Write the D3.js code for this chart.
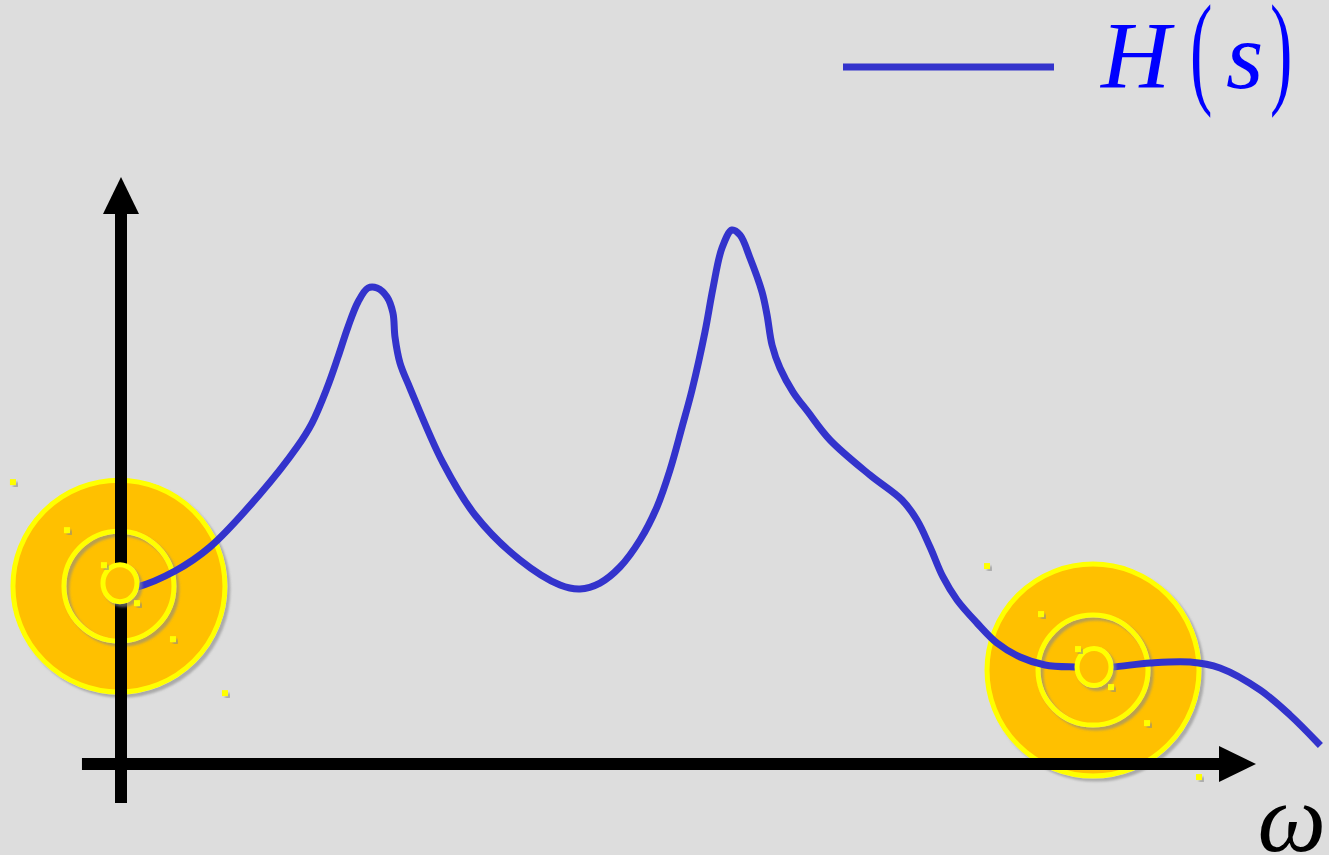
<!DOCTYPE html>
<html>
<head>
<meta charset="utf-8">
<script src="https://cdn.jsdelivr.net/npm/d3@7"></script>
<style>
  html, body { margin: 0; padding: 0; background: #dddddd; }
  svg { display: block; }
</style>
</head>
<body>
<svg id="chart" width="1329" height="855"></svg>
<script>
// Frequency response H(s) over ω (arbitrary units)
const omega = [0, 1.41, 4.76, 7.84, 12.25, 15.51, 16.83, 18.15, 19.12,
  20.0, 20.88, 21.76, 22.56, 23.44, 23.96, 24.14, 24.58, 25.46, 28.37, 31.19, 35.15, 38.68,
  40.44, 42.2, 43.96, 45.73, 47.22, 48.37, 49.43, 50.31, 51.45, 52.16, 52.95, 53.83, 54.54, 55.42,
  56.48, 56.92, 57.36, 58.06, 59.21, 60.53, 62.47, 65.99, 68.81, 70.13, 71.28, 72.42, 73.66, 75.42,
  77.18, 79.21, 81.41, 84.05, 85.7, 87.31, 90.66, 94.19, 96.83, 100.35, 102.99, 105.46];
const magnitude = [29.8, 30.15, 32.88, 36.97, 46.0, 54.0, 58.09, 64.05, 69.34,
  74.45, 78.71, 81.09, 81.09, 79.56, 76.83, 72.74, 68.31, 64.05, 51.28, 42.42, 34.75, 30.49,
  29.81, 30.83, 33.56, 38.16, 43.78, 50.09, 57.41, 63.71, 73.59, 81.09, 87.9, 90.97, 90.12, 86.2,
  80.41, 76.49, 71.38, 67.46, 63.37, 59.97, 55.2, 49.23, 44.97, 41.57, 36.97, 31.86, 27.94, 24.02,
  20.61, 18.23, 16.87, 16.52, 16.5, 16.52, 17.21, 17.38, 16.35, 12.61, 8.35, 3.58];

// Highlighted operating points on the curve
const markerOmega = [-0.18, 85.64];
const markerMag = [30.3, 16.0];

// Axis extents
const axisX = [-3.44, 100];
const axisY = [-6.64, 100];

const legendLabel = ["H", "(", "s", ")"];
const axisLabel = "ω";

const svg = d3.select("#chart");
const x = d3.scaleLinear().domain([0, 100]).range([121, 1256]);
const y = d3.scaleLinear().domain([0, 100]).range([764, 177]);

const lineColor = "#3333cc";
const gold = "#ffc000";
const ring = "#ffff00";

const defs = svg.append("defs");
const sh = defs.append("filter").attr("id", "shadow")
  .attr("x", "-20%").attr("y", "-20%").attr("width", "140%").attr("height", "140%");
sh.append("feDropShadow").attr("dx", 3).attr("dy", 3).attr("stdDeviation", 1)
  .attr("flood-color", "#888").attr("flood-opacity", 0.6);

const markers = markerOmega.map((w, i) => ({ cx: x(w), cy: y(markerMag[i]) }));

// outer discs and middle rings
const back = svg.append("g");
markers.forEach(m => {
  back.append("circle").attr("cx", m.cx).attr("cy", m.cy).attr("r", 106)
    .attr("fill", gold).attr("stroke", ring).attr("stroke-width", 5)
    .attr("filter", "url(#shadow)");
  back.append("circle").attr("cx", m.cx).attr("cy", m.cy).attr("r", 55)
    .attr("fill", "none").attr("stroke", ring).attr("stroke-width", 5)
    .attr("filter", "url(#shadow)");
});

// axes
const axes = svg.append("g");
axes.append("line")
  .attr("x1", x(0)).attr("x2", x(0))
  .attr("y1", y(axisY[0])).attr("y2", y(axisY[1]) + 36)
  .attr("stroke", "#000").attr("stroke-width", 12);
axes.append("path")
  .attr("d", `M${x(0)},${y(axisY[1])} L${x(0) - 18},${y(axisY[1]) + 37} L${x(0) + 18},${y(axisY[1]) + 37} Z`)
  .attr("fill", "#000");
axes.append("line")
  .attr("x1", x(axisX[0])).attr("x2", x(axisX[1]) - 36)
  .attr("y1", y(0)).attr("y2", y(0))
  .attr("stroke", "#000").attr("stroke-width", 12);
axes.append("path")
  .attr("d", `M${x(axisX[1])},${y(0)} L${x(axisX[1]) - 37},${y(0) - 18} L${x(axisX[1]) - 37},${y(0) + 18} Z`)
  .attr("fill", "#000");

// response curve
const pts = omega.map((w, i) => [w, magnitude[i]]);
const line = d3.line().x(d => x(d[0])).y(d => y(d[1])).curve(d3.curveCatmullRom.alpha(0.5));
svg.append("path").datum(pts).attr("d", line)
  .attr("fill", "none").attr("stroke", lineColor).attr("stroke-width", 7)
  .attr("stroke-linecap", "square").attr("stroke-linejoin", "round");

// inner rings and sparkle dots
const sparkle = [[-106, -104], [-52, -56], [-15, -21], [18, 17], [54, 53], [106, 107]];
const front = svg.append("g");
markers.forEach(m => {
  front.append("ellipse").attr("cx", m.cx + 1).attr("cy", m.cy - 3).attr("rx", 17).attr("ry", 18.5)
    .attr("fill", gold).attr("stroke", ring).attr("stroke-width", 5)
    .attr("filter", "url(#shadow)");
  sparkle.forEach(o => {
    front.append("rect").attr("x", m.cx + o[0] - 3).attr("y", m.cy + o[1] - 3)
      .attr("width", 6).attr("height", 6).attr("fill", ring)
      .attr("filter", "url(#shadow)");
  });
});

// legend
const legend = svg.append("g");
legend.append("line").attr("x1", 843).attr("x2", 1054).attr("y1", 67).attr("y2", 67)
  .attr("stroke", lineColor).attr("stroke-width", 7);
const serif = "'Liberation Serif', 'DejaVu Serif', serif";
const lx = [1101, 1190, 1226, 1270];
legendLabel.forEach((t, i) => {
  const paren = t === "(" || t === ")";
  const txt = legend.append("text")
    .attr("font-family", serif).attr("fill", "#0000ff")
    .attr("font-size", 96)
    .attr("font-style", paren ? "normal" : "italic")
    .text(t);
  if (paren) {
    txt.attr("transform", `translate(${lx[i]},${91}) scale(0.7,1.3)`);
  } else {
    txt.attr("x", lx[i]).attr("y", 88);
  }
});

// axis label
svg.append("text").attr("x", 1326).attr("y", 851).attr("text-anchor", "end")
  .attr("font-family", serif).attr("font-style", "italic").attr("font-size", 97)
  .attr("fill", "#000").text(axisLabel);
</script>
</body>
</html>
